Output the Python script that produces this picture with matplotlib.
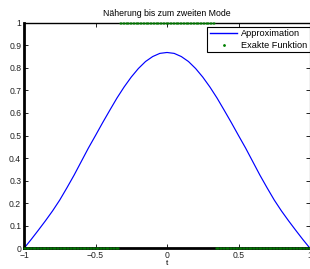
import numpy as np
import matplotlib
matplotlib.use("Agg")
import matplotlib.pyplot as plt

plt.rcParams['font.family'] = ['Liberation Sans', 'DejaVu Sans']

# approximation (symmetric around t = 0)
approx_t = [-1.0, -0.95, -0.9, -0.85, -0.8, -0.75, -0.7, -0.65, -0.6, -0.55, -0.5,
            -0.45, -0.4, -0.35, -0.3, -0.25, -0.2, -0.15, -0.1, -0.05,
            0.0, 0.05, 0.1, 0.15, 0.2, 0.25, 0.3, 0.35, 0.4, 0.45,
            0.5, 0.55, 0.6, 0.65, 0.7, 0.75, 0.8, 0.85, 0.9, 0.95, 1.0]
approx_y = [0.0, 0.039, 0.080, 0.122, 0.166, 0.214, 0.268, 0.324, 0.384, 0.444, 0.500,
            0.557, 0.612, 0.666, 0.715, 0.759, 0.797, 0.828, 0.850, 0.864,
            0.868, 0.864, 0.850, 0.828, 0.797, 0.759, 0.715, 0.666, 0.612, 0.557,
            0.500, 0.444, 0.384, 0.324, 0.268, 0.214, 0.166, 0.122, 0.080, 0.039, 0.0]

# exact function: rectangular pulse
pulse_left = -1/3
pulse_right = 1/3
pulse_height = 1.0
n_samples = 201

title = "Näherung bis zum zweiten Mode"
xticks = [-1, -0.5, 0, 0.5, 1]
xticklabels = ["\u22121", "\u22120.5", "0", "0.5", "1"]
yticks = [0, 0.1, 0.2, 0.3, 0.4, 0.5, 0.6, 0.7, 0.8, 0.9, 1]
yticklabels = ["0", "0.1", "0.2", "0.3", "0.4", "0.5", "0.6", "0.7", "0.8", "0.9", "1"]

exact_t = np.linspace(-1, 1, n_samples)
exact_y = np.where((exact_t > pulse_left) & (exact_t < pulse_right), pulse_height, 0.0)

fig = plt.figure(figsize=(3.10, 2.69), dpi=100)
ax = fig.add_axes([24/310, 1 - 248.3/269, 286/310, 225.6/269])

ax.plot(approx_t, approx_y, color="#0000ff", lw=0.85, label="Approximation")
ax.plot(exact_t, exact_y, ".", color="green", ms=1.0, clip_on=False, zorder=5,
        label="Exakte Funktion")

ax.set_xlim(-1, 1)
ax.set_ylim(0, 1)
ax.set_xticks(xticks)
ax.set_xticklabels(xticklabels)
ax.set_yticks(yticks)
ax.set_yticklabels(yticklabels)
ax.tick_params(direction="in", length=3, width=0.6, labelsize=6.2, pad=2,
               top=True, right=True, colors="black", labelcolor="#222222")

ax.spines['left'].set_linewidth(2.0)
ax.spines['bottom'].set_linewidth(2.0)
ax.spines['top'].set_linewidth(1.0)
ax.spines['right'].set_linewidth(0.8)

ax.set_title(title, fontsize=6.3, pad=5)
ax.set_xlabel("t", fontsize=6, labelpad=0)

leg = ax.legend(loc="upper right", bbox_to_anchor=(1, 1 - 4/225.6), borderaxespad=0,
                fontsize=6.6, fancybox=False, framealpha=1, edgecolor="black",
                handlelength=3.0, handletextpad=0.4, borderpad=0.3, labelspacing=0.25,
                markerscale=2.0)
leg.get_frame().set_linewidth(0.8)
leg.get_lines()[0].set_linewidth(1.0)

fig.savefig("out.png", dpi=100)
